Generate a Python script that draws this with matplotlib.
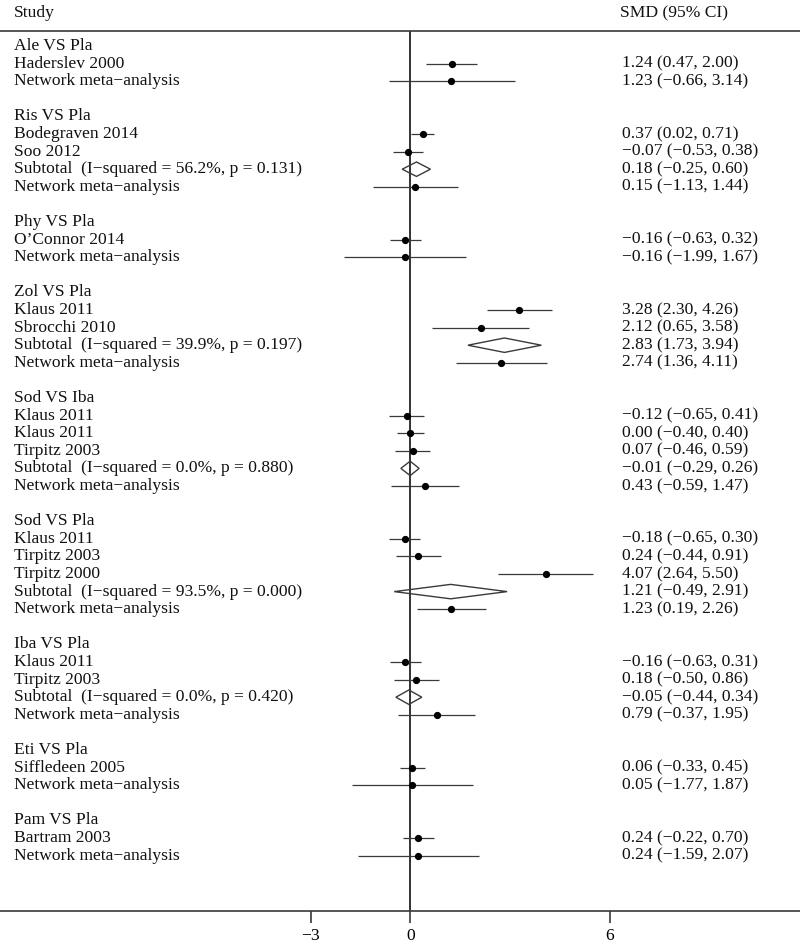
import numpy as np
import matplotlib
matplotlib.use("Agg")
import matplotlib.pyplot as plt
from matplotlib.patches import Polygon
import matplotlib.transforms as mtransforms

# ---------------- data ----------------
row_labels = [
    "Ale VS Pla", "Haderslev 2000", "Network meta\u2212analysis", "",
    "Ris VS Pla", "Bodegraven 2014", "Soo 2012",
    "Subtotal  (I\u2212squared = 56.2%, p = 0.131)", "Network meta\u2212analysis", "",
    "Phy VS Pla", "O\u2019Connor 2014", "Network meta\u2212analysis", "",
    "Zol VS Pla", "Klaus 2011", "Sbrocchi 2010",
    "Subtotal  (I\u2212squared = 39.9%, p = 0.197)", "Network meta\u2212analysis", "",
    "Sod VS Iba", "Klaus 2011", "Klaus 2011", "Tirpitz 2003",
    "Subtotal  (I\u2212squared = 0.0%, p = 0.880)", "Network meta\u2212analysis", "",
    "Sod VS Pla", "Klaus 2011", "Tirpitz 2003", "Tirpitz 2000",
    "Subtotal  (I\u2212squared = 93.5%, p = 0.000)", "Network meta\u2212analysis", "",
    "Iba VS Pla", "Klaus 2011", "Tirpitz 2003",
    "Subtotal  (I\u2212squared = 0.0%, p = 0.420)", "Network meta\u2212analysis", "",
    "Eti VS Pla", "Siffledeen 2005", "Network meta\u2212analysis", "",
    "Pam VS Pla", "Bartram 2003", "Network meta\u2212analysis",
]
# row kind: h = heading, s = study, d = subtotal diamond, n = network MA, b = blank
row_kind = [
    "h", "s", "n", "b",
    "h", "s", "s", "d", "n", "b",
    "h", "s", "n", "b",
    "h", "s", "s", "d", "n", "b",
    "h", "s", "s", "s", "d", "n", "b",
    "h", "s", "s", "s", "d", "n", "b",
    "h", "s", "s", "d", "n", "b",
    "h", "s", "n", "b",
    "h", "s", "n",
]
nan = np.nan
smd = [
    nan, 1.24, 1.23, nan,
    nan, 0.37, -0.07, 0.18, 0.15, nan,
    nan, -0.16, -0.16, nan,
    nan, 3.28, 2.12, 2.83, 2.74, nan,
    nan, -0.12, 0.00, 0.07, -0.01, 0.43, nan,
    nan, -0.18, 0.24, 4.07, 1.21, 1.23, nan,
    nan, -0.16, 0.18, -0.05, 0.79, nan,
    nan, 0.06, 0.05, nan,
    nan, 0.24, 0.24,
]
ci_low = [
    nan, 0.47, -0.66, nan,
    nan, 0.02, -0.53, -0.25, -1.13, nan,
    nan, -0.63, -1.99, nan,
    nan, 2.30, 0.65, 1.73, 1.36, nan,
    nan, -0.65, -0.40, -0.46, -0.29, -0.59, nan,
    nan, -0.65, -0.44, 2.64, -0.49, 0.19, nan,
    nan, -0.63, -0.50, -0.44, -0.37, nan,
    nan, -0.33, -1.77, nan,
    nan, -0.22, -1.59,
]
ci_high = [
    nan, 2.00, 3.14, nan,
    nan, 0.71, 0.38, 0.60, 1.44, nan,
    nan, 0.32, 1.67, nan,
    nan, 4.26, 3.58, 3.94, 4.11, nan,
    nan, 0.41, 0.40, 0.59, 0.26, 1.47, nan,
    nan, 0.30, 0.91, 5.50, 2.91, 2.26, nan,
    nan, 0.31, 0.86, 0.34, 1.95, nan,
    nan, 0.45, 1.87, nan,
    nan, 0.70, 2.07,
]
x_ticks = [-3, 0, 6]
x_tick_labels = ["\u22123", "0", "6"]

# ---------------- figure ----------------
plt.rcParams['font.family'] = ['Liberation Serif', 'DejaVu Serif']
FS = 12.6
W, H = 800, 943
fig = plt.figure(figsize=(W / 100, H / 100), dpi=100)

top_px, bot_px = 31, 911
ax = fig.add_axes([0, (H - bot_px) / H, 1, (bot_px - top_px) / H])

zero_px, unit_px = 410.5, 33.2
ax.set_xlim((0 - zero_px) / unit_px, (W - zero_px) / unit_px)
row0_px, row_px = 46.0, 17.6
ax.set_ylim((bot_px - row0_px) / row_px, (top_px - row0_px) / row_px)

edge = '#3a3a3a'
for s in ['left', 'right']:
    ax.spines[s].set_visible(False)
for s in ['top', 'bottom']:
    ax.spines[s].set_color(edge)
    ax.spines[s].set_linewidth(1.2)
ax.set_yticks([])
ax.set_xticks(x_ticks)
ax.set_xticklabels(x_tick_labels, fontsize=FS)
ax.tick_params(axis='x', direction='out', length=8.5, width=1.2, color=edge, pad=3.5)

ax.axvline(0, color='#111111', lw=1.2, zorder=1)

def fmt(v):
    return f"{v:.2f}".replace('-', '\u2212')

lt = mtransforms.blended_transform_factory(ax.transAxes, ax.transData)
for r, (lab, kind) in enumerate(zip(row_labels, row_kind)):
    if kind == 'b':
        continue
    ax.text(14 / W, r, lab, transform=lt, ha='left', va='center',
            fontsize=FS, color='#111111')
    if kind == 'h':
        continue
    e, lo, hi = smd[r], ci_low[r], ci_high[r]
    ax.text(622 / W, r, f"{fmt(e)} ({fmt(lo)}, {fmt(hi)})", transform=lt,
            ha='left', va='center', fontsize=FS, color='#111111')
    if kind == 'd':
        h = 0.41
        poly = Polygon([(lo, r), (e, r - h), (hi, r), (e, r + h)], closed=True,
                       facecolor='none', edgecolor=edge, lw=1.0, zorder=3)
        ax.add_patch(poly)
    else:
        ax.plot([lo, hi], [r, r], color=edge, lw=0.9, zorder=2,
                solid_capstyle='butt')
        ax.plot([e], [r], marker='o', ms=4.2, color='black', zorder=4)

hdr_y = 1 + (top_px - 13) / (bot_px - top_px)
ax.text(14 / W, hdr_y, "Study", transform=ax.transAxes,
        ha='left', va='center', fontsize=FS, color='#111111', clip_on=False)
ax.text(620 / W, hdr_y, "SMD (95% CI)", transform=ax.transAxes,
        ha='left', va='center', fontsize=FS, color='#111111', clip_on=False)

fig.savefig("out.png", dpi=100)
